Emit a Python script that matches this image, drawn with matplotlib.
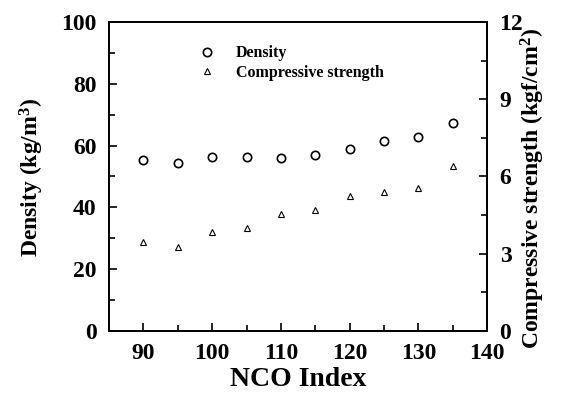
import matplotlib.pyplot as plt
from matplotlib.ticker import MultipleLocator

plt.rcParams['font.family'] = ['Liberation Serif', 'DejaVu Serif']
plt.rcParams['mathtext.fontset'] = 'custom'
plt.rcParams['mathtext.rm'] = 'Liberation Serif:bold'
plt.rcParams['mathtext.it'] = 'Liberation Serif:bold'
plt.rcParams['mathtext.bf'] = 'Liberation Serif:bold'

nco_index = [90, 95, 100, 105, 110, 115, 120, 125, 130, 135]
density = [55.3, 54.3, 56.2, 56.4, 55.9, 57.0, 58.9, 61.6, 62.7, 67.2]
strength = [3.44, 3.25, 3.86, 3.99, 4.54, 4.70, 5.24, 5.39, 5.55, 6.41]

fig = plt.figure(figsize=(5.71, 3.93), dpi=100)
ax = fig.add_axes([0.191, 0.158, 0.662, 0.786])
ax2 = ax.twinx()

h1, = ax.plot(nco_index, density, linestyle='none', marker='o', ms=6,
              mfc='none', mec='black', mew=1.2, label='Density')
h2, = ax2.plot(nco_index, strength, linestyle='none', marker='^', ms=5,
               mfc='none', mec='black', mew=0.8, label='Compressive strength')

ax.set_xlim(85, 140)
ax.set_ylim(0, 100)
ax2.set_ylim(0, 12)

ax.xaxis.set_major_locator(MultipleLocator(10))
ax.xaxis.set_minor_locator(MultipleLocator(5))
ax.yaxis.set_major_locator(MultipleLocator(20))
ax.yaxis.set_minor_locator(MultipleLocator(10))
ax2.yaxis.set_major_locator(MultipleLocator(3))
ax2.yaxis.set_minor_locator(MultipleLocator(1.5))

ax.tick_params(axis='both', which='both', direction='in', top=False, right=False,
               labelsize=17, width=1.2, pad=9)
ax.tick_params(which='major', length=6)
ax.tick_params(which='minor', length=4)
ax2.tick_params(axis='y', which='both', direction='in', labelsize=17, width=1.2, pad=9)
ax2.tick_params(which='major', length=6)
ax2.tick_params(which='minor', length=4)

for a in (ax, ax2):
    for s in a.spines.values():
        s.set_linewidth(1.3)
    for lab in a.get_xticklabels() + a.get_yticklabels():
        lab.set_fontweight('bold')

ax.set_xlabel('NCO Index', fontsize=20, fontweight='bold', va='center')
ax.set_ylabel('Density (kg/m$^3$)', fontsize=17, fontweight='bold', va='center')
ax2.set_ylabel('Compressive strength (kgf/cm$^2$)', fontsize=17, fontweight='bold',
               va='center')
ax.xaxis.set_label_coords(0.5, -0.158)
ax.yaxis.set_label_coords(-0.205, 0.498)
ax2.yaxis.set_label_coords(1.122, 0.462)

ax.legend(handles=[h1, h2], loc='upper left', bbox_to_anchor=(0.213, 0.95),
          frameon=False, prop={'weight': 'bold', 'size': 11.5}, handletextpad=1.2,
          labelspacing=0.22, handlelength=1.2, borderpad=0)

fig.savefig('out.png', dpi=100)
